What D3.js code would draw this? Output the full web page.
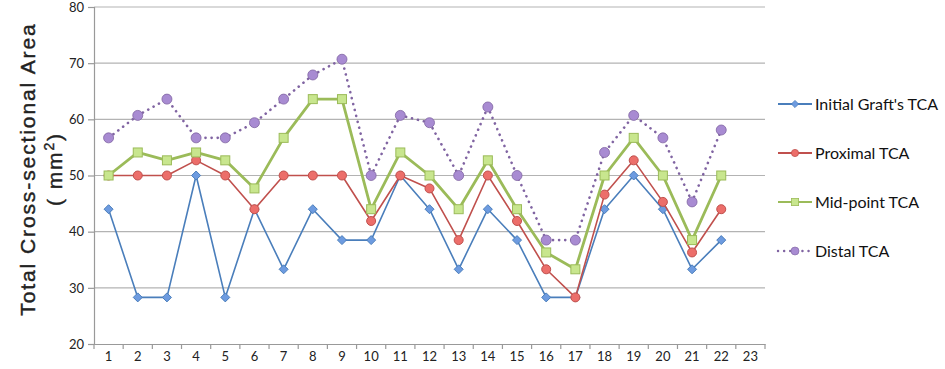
<!DOCTYPE html>
<html>
<head>
<meta charset="utf-8">
<script src="https://cdn.jsdelivr.net/npm/d3@7"></script>
<style>
  body { margin: 0; background: white; }
  svg { display: block; }
</style>
</head>
<body>
<div id="chart"></div>
<script>
// categories 1..23 (23 has no data)
const categories = d3.range(1, 24).map(String);
const yTicks = [20, 30, 40, 50, 60, 70, 80];

const initialGraft = [44, 28.3, 28.3, 50, 28.3, 44, 33.3, 44, 38.5, 38.5, 50, 44, 33.3, 44, 38.5, 28.3, 28.3, 44, 50, 44, 33.3, 38.5];
const proximal     = [50, 50, 50, 52.7, 50, 44, 50, 50, 50, 41.9, 50, 47.7, 38.5, 50, 41.9, 33.3, 28.3, 46.6, 52.7, 45.3, 36.3, 44];
const midPoint     = [50, 54.1, 52.7, 54.1, 52.7, 47.7, 56.7, 63.6, 63.6, 44, 54.1, 50, 44, 52.7, 44, 36.3, 33.3, 50, 56.7, 50, 38.5, 50];
const distal       = [56.7, 60.7, 63.6, 56.7, 56.7, 59.4, 63.6, 67.9, 70.7, 50, 60.7, 59.4, 50, 62.2, 50, 38.5, 38.5, 54.1, 60.7, 56.7, 45.3, 58.1];

const seriesNames = ["Initial Graft's TCA", "Proximal TCA", "Mid-point TCA", "Distal TCA"];

const series = [
  {name: seriesNames[0], values: initialGraft, stroke: "#4a7ebb", fill: "#6d9be0", width: 1.6, dash: null, marker: "diamond"},
  {name: seriesNames[1], values: proximal, stroke: "#c0504d", fill: "#ec6e6a", width: 1.6, dash: null, marker: "circle"},
  {name: seriesNames[2], values: midPoint, stroke: "#9bbb59", fill: "#c8e68e", width: 2.8, dash: null, marker: "square"},
  {name: seriesNames[3], values: distal, stroke: "#8064a2", fill: "#a88bd2", width: 2.6, dash: "0.1 6", marker: "bigcircle"}
];

const width = 945, height = 369;
const margin = {top: 7, right: 180, bottom: 25, left: 94};

const svg = d3.select("#chart").append("svg")
  .attr("width", width).attr("height", height);

const x = d3.scaleBand().domain(categories).range([margin.left, width - margin.right]);
const y = d3.scaleLinear().domain([20, 80]).range([height - margin.bottom, margin.top]);

// gridlines
svg.append("g").selectAll("line")
  .data(yTicks.slice(1)).join("line")
  .attr("x1", margin.left).attr("x2", width - margin.right)
  .attr("y1", d => y(d)).attr("y2", d => y(d))
  .attr("stroke", "#b3b3b3").attr("stroke-width", 1.2);

// y axis
const yAxis = svg.append("g").attr("transform", `translate(${margin.left},0)`)
  .call(d3.axisLeft(y).tickValues(yTicks).tickSize(6).tickPadding(4));
yAxis.select(".domain").attr("stroke", "#999").attr("stroke-width", 1.2);
yAxis.selectAll(".tick line").attr("stroke", "#999").attr("stroke-width", 1.2);
yAxis.selectAll("text").attr("font-family", "Lato, 'Open Sans', sans-serif").attr("font-size", 13).attr("fill", "#222");

// x axis, ticks between categories
const xAxis = svg.append("g").attr("transform", `translate(0,${height - margin.bottom})`)
  .call(d3.axisBottom(x).tickSizeOuter(0).tickSize(0).tickPadding(8));
xAxis.select(".domain").attr("stroke", "#999").attr("stroke-width", 1.2);
xAxis.selectAll("text").attr("font-family", "Lato, 'Open Sans', sans-serif").attr("font-size", 13).attr("fill", "#222");
xAxis.selectAll(".sep")
  .data(categories.concat([""])).join("line")
  .attr("class", "sep")
  .attr("x1", (d, i) => margin.left + i * x.step()).attr("x2", (d, i) => margin.left + i * x.step())
  .attr("y1", 0).attr("y2", 5)
  .attr("stroke", "#999").attr("stroke-width", 1.2);

// y axis title
const title = svg.append("text")
  .attr("transform", "translate(35,169) rotate(-90)")
  .attr("text-anchor", "middle")
  .attr("font-family", "Arial, 'Liberation Sans', sans-serif")
  .attr("font-size", 21).attr("fill", "#222")
  .attr("stroke", "#222").attr("stroke-width", 0.4)
  .attr("letter-spacing", 1.9);
title.append("tspan").attr("x", 0).attr("dy", 0).text("Total Cross-sectional Area");
title.append("tspan").attr("x", 0).attr("dy", 27).text("( mm");
title.append("tspan").attr("dy", -8).attr("font-size", 14).text("2");
title.append("tspan").attr("dy", 8).text(")");

const line = d3.line()
  .x((d, i) => x(categories[i]) + x.bandwidth() / 2)
  .y(d => y(d));

function drawMarker(g, type, s) {
  if (type === "diamond") {
    g.append("path").attr("d", "M0,-4.5L4.5,0L0,4.5L-4.5,0Z")
      .attr("fill", s.fill).attr("stroke", s.stroke).attr("stroke-width", 1);
  } else if (type === "circle") {
    g.append("circle").attr("r", 4.5).attr("fill", s.fill).attr("stroke", s.stroke).attr("stroke-width", 1);
  } else if (type === "square") {
    g.append("rect").attr("x", -4.5).attr("y", -4.5).attr("width", 9).attr("height", 9)
      .attr("fill", s.fill).attr("stroke", s.stroke).attr("stroke-width", 1);
  } else {
    g.append("circle").attr("r", 5).attr("fill", s.fill).attr("stroke", s.stroke).attr("stroke-width", 0.8);
  }
}

series.forEach(s => {
  svg.append("path").datum(s.values)
    .attr("d", line)
    .attr("fill", "none")
    .attr("stroke", s.stroke)
    .attr("stroke-width", s.width)
    .attr("stroke-linecap", s.dash ? "round" : "butt")
    .attr("stroke-linejoin", "round")
    .attr("stroke-dasharray", s.dash);
  s.values.forEach((v, i) => {
    const g = svg.append("g").attr("transform", `translate(${x(categories[i]) + x.bandwidth() / 2},${y(v)})`);
    drawMarker(g, s.marker, s);
  });
});

// legend
const legend = svg.append("g").attr("transform", "translate(778,104)");
series.forEach((s, i) => {
  const g = legend.append("g").attr("transform", `translate(0,${i * 49})`);
  g.append("line").attr("x1", 0).attr("x2", 34).attr("y1", 0).attr("y2", 0)
    .attr("stroke", s.stroke).attr("stroke-width", s.dash ? 2.4 : 1.8)
    .attr("stroke-linecap", s.dash ? "round" : "butt")
    .attr("stroke-dasharray", s.dash);
  const m = g.append("g").attr("transform", "translate(17,0) scale(0.8)");
  drawMarker(m, s.marker, s);
  g.append("text").attr("x", 37).attr("y", 0).attr("dy", "0.35em")
    .attr("font-family", "Lato, 'Open Sans', sans-serif")
    .attr("font-size", 16).attr("fill", "#111")
    .text(s.name);
});
</script>
</body>
</html>
